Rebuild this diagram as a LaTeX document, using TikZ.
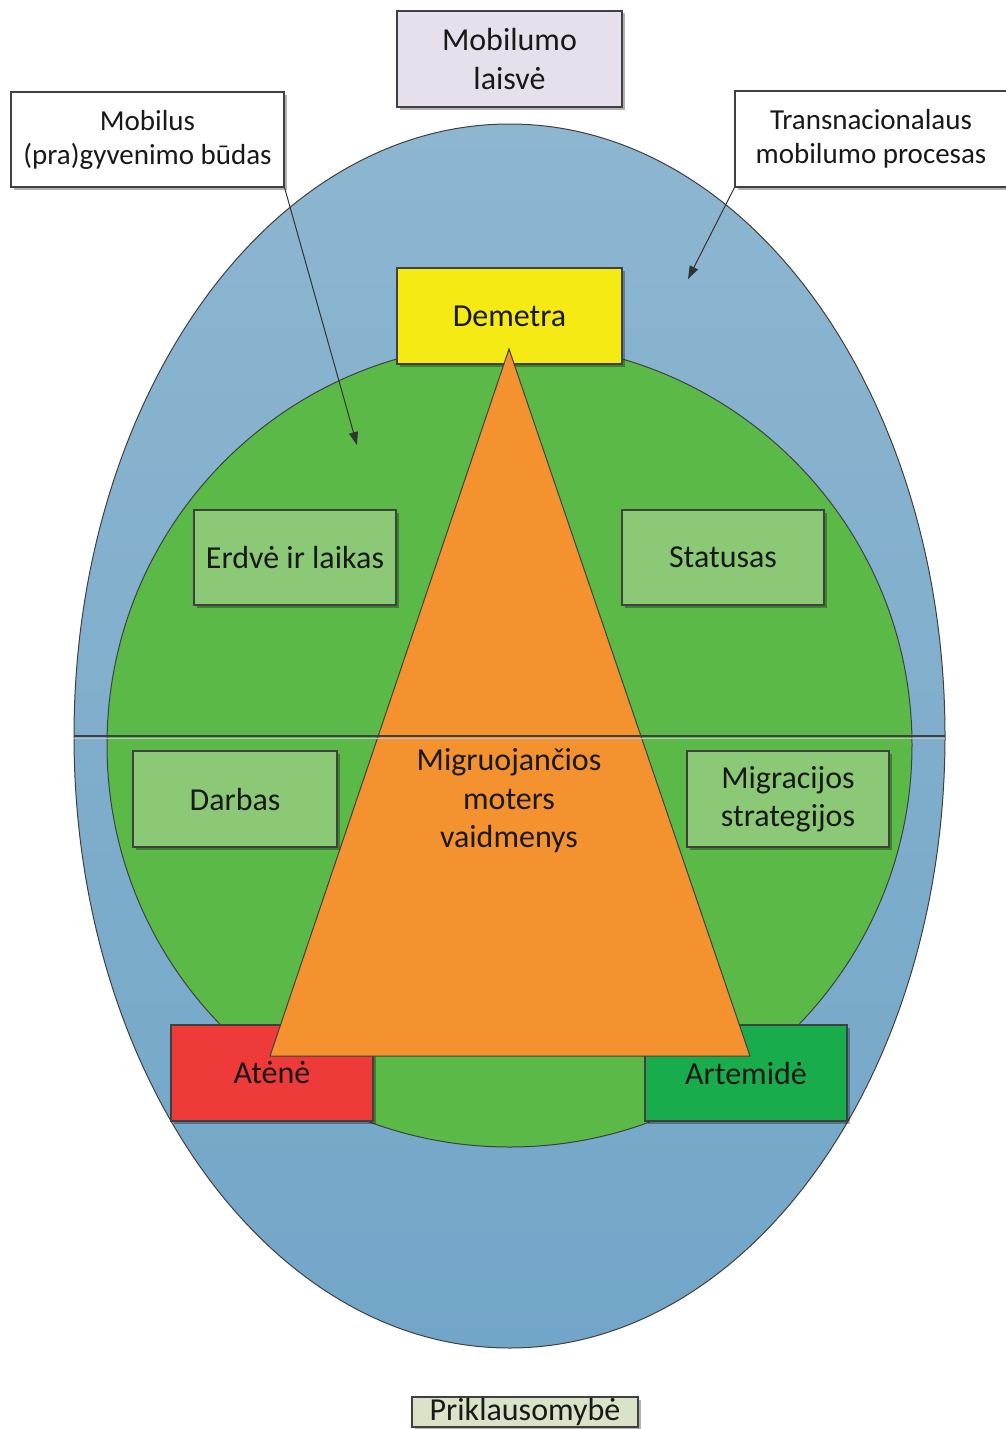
\documentclass[tikz,border=0pt]{standalone}
\usepackage{fontspec}
\setmainfont{Carlito}
\usetikzlibrary{arrows.meta,shadows}
\definecolor{blueT}{HTML}{8DB6D0}
\definecolor{blueB}{HTML}{72A6C8}
\definecolor{grn}{HTML}{5BBA47}
\definecolor{lgrn}{HTML}{8CC977}
\definecolor{orng}{HTML}{F3922E}
\definecolor{yel}{HTML}{F5EA14}
\definecolor{redc}{HTML}{EE3A39}
\definecolor{dgrn}{HTML}{19AC4C}
\definecolor{lav}{HTML}{E6E0EC}
\definecolor{olv}{HTML}{DAE2C8}
\definecolor{edge}{HTML}{404040}
\tikzset{
  box/.style={draw=edge, line width=1.1pt, rectangle, align=center, inner sep=0pt,
    font=\fontsize{32}{38.5}\selectfont, text=black!90,
    drop shadow={shadow xshift=2.5pt, shadow yshift=-2.5pt, fill=black, opacity=0.3}},
  smallbox/.style={box, font=\fontsize{29}{34}\selectfont, fill=white},
  arr/.style={draw=black!80, line width=1pt, -{Triangle[length=13pt,width=9pt]}},
}
\begin{document}
\begin{tikzpicture}[x=1pt,y=-1pt]
\useasboundingbox[fill=white] (0,0) rectangle (1005,1429);
% outer ellipse
\shade[top color=blueT, bottom color=blueB, draw=edge, line width=1pt]
  (509.5,736) ellipse [x radius=435.5, y radius=612];
% inner circle
\fill[grn, draw=edge, line width=1pt] (509.5,745) ellipse [x radius=402.5, y radius=402];
% bottom boxes (behind triangle)
\node[box, fill=redc, minimum width=202, minimum height=96] (atene) at (272,1073) {Atėnė};
\node[box, fill=dgrn, minimum width=202, minimum height=96] (artemide) at (746,1073) {Artemidė};
\node[box, fill=yel, minimum width=225, minimum height=96] (demetra) at (509.5,316) {Demetra};
% triangle
\coordinate (ta) at (509,349);
\coordinate (tl) at (270,1056);
\coordinate (tr) at (750,1056);
\fill[orng, draw=edge, line width=1pt] (ta) -- (tl) -- (tr) -- cycle;
% horizontal line
\coordinate (hl) at (74,736);
\coordinate (hr) at (945,736);
\draw[black!25, line width=1.5pt] ([yshift=-2.5pt]hl) -- ([yshift=-2.5pt]hr);
\draw[edge, line width=1.4pt] (hl) -- (hr);
\node[align=center, font=\fontsize{32}{38.5}\selectfont, text=black!90] (center) at (509,801)
  {Migruojančios\\moters\\vaidmenys};
% inner boxes
\node[box, fill=lgrn, minimum width=202, minimum height=95] (erdve) at (295,557.5) {Erdvė ir laikas};
\node[box, fill=lgrn, minimum width=202, minimum height=95] (statusas) at (723,557.5) {Statusas};
\node[box, fill=lgrn, minimum width=204, minimum height=96] (darbas) at (235,799) {Darbas};
\node[box, fill=lgrn, minimum width=202, minimum height=96] (strateg) at (788,799) {Migracijos\\strategijos};
% outer labels
\node[box, fill=lav, minimum width=225, minimum height=96] (laisve) at (509.5,59) {Mobilumo\\laisvė};
\node[smallbox, minimum width=273, minimum height=95] (budas) at (147.5,139.5) {Mobilus\\(pra)gyvenimo būdas};
\node[smallbox, minimum width=272, minimum height=96] (procesas) at (871,139) {Transnacionalaus\\mobilumo procesas};
\node[box, fill=olv, minimum width=226, minimum height=30, font=\fontsize{32}{34}\selectfont] (prikl) at (525,1412) {Priklausomybė};
% arrows
\coordinate (a1) at (357,445);
\coordinate (a2) at (688,279);
\draw[arr] (budas.south east) -- (a1);
\draw[arr] (procesas.south west) -- (a2);
\end{tikzpicture}
\end{document}
